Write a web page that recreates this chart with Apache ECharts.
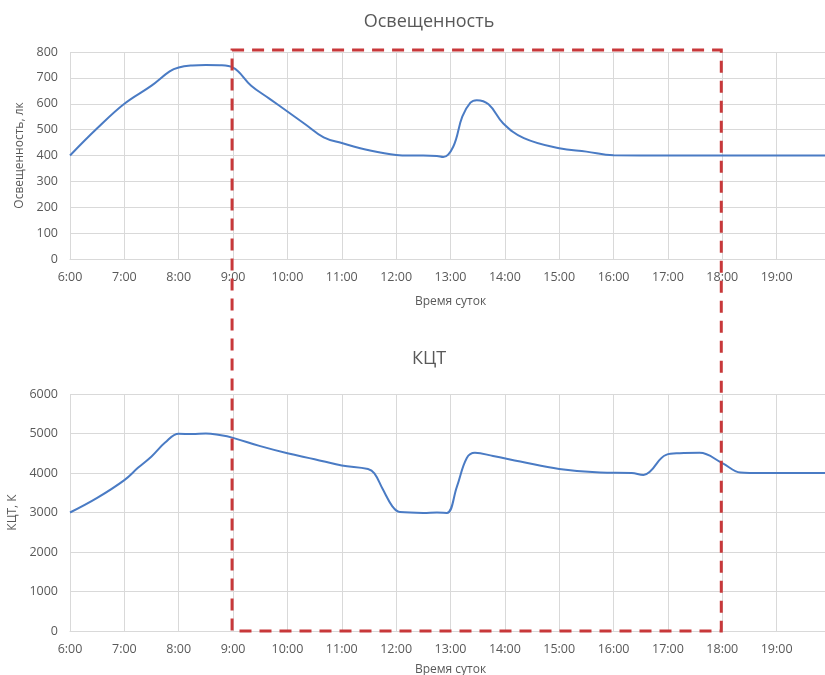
<!DOCTYPE html>
<html>
<head>
<meta charset="utf-8">
<script src="https://cdn.jsdelivr.net/npm/echarts@6/dist/echarts.min.js"></script>
<style>
html, body { margin: 0; padding: 0; background: #fff; }
#main { width: 825px; height: 675px; }
</style>
</head>
<body>
<div id="main"></div>
<script>
// Освещенность
var luxTimes = ['6:00','6:30','7:00','7:30','7:50','8:00','8:15','8:30','8:45','9:00','9:20','9:40','10:00','10:20','10:40','11:00','11:30','12:00','12:15','12:30','12:45','12:52','13:03','13:13','13:22','13:29','13:42','13:58','14:21','15:00','15:30','16:00','17:00','18:00','19:00','20:00'];
var luxValues = [400,505,600,670,725,740,748,750,749,740,670,620,570,520,470,448,420,402,400,400,398,394,434,550,604,614,598,525,467,428,415,401,400,400,400,400];

// КЦТ
var cctTimes = ['6:00','6:30','7:00','7:15','7:30','7:45','8:00','8:15','8:30','8:45','9:00','9:30','10:00','10:30','11:00','11:29','11:36','11:45','11:56','12:04','12:30','12:45','12:56','13:07','13:18','13:27','13:47','14:17','15:00','15:45','16:20','16:33','16:40','16:58','17:13','17:35','18:00','18:20','18:30','19:00','20:00'];
var cctValues = [3000,3370,3820,4130,4420,4770,4995,4985,5000,4960,4890,4680,4500,4350,4190,4100,3990,3600,3150,3010,2990,3000,2990,3650,4380,4510,4430,4290,4100,4010,4000,3950,4030,4460,4500,4510,4250,4010,4000,4000,4000];

var hourTicks = ['6:00','7:00','8:00','9:00','10:00','11:00','12:00','13:00','14:00','15:00','16:00','17:00','18:00','19:00'];

// выделенный интервал
var markFrom = '9:00';
var markTo = '18:00';

function toHours(s) {
	var p = s.split(':');
	return +p[0] + (+p[1]) / 60;
}

function pairs(times, values) {
	var out = [];
	for (var i = 0; i < times.length; i++) {
		out.push([toHours(times[i]), values[i]]);
	}
	return out;
}

var textColor = '#595959';
var gridColor = '#d9d9d9';
var font = 'Open Sans';

function xAxisOpt(gridIndex, nameGap) {
	return {
		type: 'value', gridIndex: gridIndex,
		min: toHours(hourTicks[0]), max: 20, interval: 1,
		name: 'Время суток', nameLocation: 'middle', nameGap: nameGap,
		nameTextStyle: { color: textColor, fontFamily: font, fontSize: 12 },
		axisLine: { show: true, lineStyle: { color: gridColor, width: 1 } },
		axisTick: { show: false },
		splitLine: { show: true, lineStyle: { color: gridColor, width: 1 } },
		axisLabel: {
			color: textColor, fontFamily: font, fontSize: 12.5, margin: 12,
			showMaxLabel: false,
			formatter: function(v) { return Math.round(v) + ':00'; }
		}
	};
}

function yAxisOpt(gridIndex, name, max, interval, nameGap) {
	return {
		type: 'value', gridIndex: gridIndex,
		min: 0, max: max, interval: interval,
		name: name, nameLocation: 'middle', nameGap: nameGap, nameRotate: 90,
		nameTextStyle: { color: textColor, fontFamily: font, fontSize: 12 },
		axisLine: { show: false },
		axisTick: { show: false },
		splitLine: { show: true, lineStyle: { color: gridColor, width: 1 } },
		axisLabel: {
			color: textColor, fontFamily: font, fontSize: 12.5, margin: 12,
			formatter: function(v) { return String(v); }
		}
	};
}

function lineSeries(idx, data) {
	return {
		type: 'line', xAxisIndex: idx, yAxisIndex: idx,
		data: data, smooth: 0.4,
		showSymbol: false, symbol: 'none',
		lineStyle: { color: '#4a7bc4', width: 2 }
	};
}

var option = {
	animation: false,
	backgroundColor: '#fff',
	title: [
		{ text: 'Освещенность', left: 424, top: 8, textAlign: 'center',
		  textStyle: { color: textColor, fontFamily: font, fontSize: 18, fontWeight: 'normal' } },
		{ text: 'КЦТ', left: 424, top: 345, textAlign: 'center',
		  textStyle: { color: textColor, fontFamily: font, fontSize: 18, fontWeight: 'normal' } }
	],
	grid: [
		{ left: 70, top: 52, right: -6, height: 207, containLabel: false, outerBoundsMode: 'none' },
		{ left: 70, top: 394, right: -6, height: 237, containLabel: false, outerBoundsMode: 'none' }
	],
	xAxis: [xAxisOpt(0, 37), xAxisOpt(1, 33)],
	yAxis: [
		yAxisOpt(0, 'Освещенность, лк', 800, 100, 40),
		yAxisOpt(1, 'КЦТ, К', 6000, 1000, 50)
	],
	series: [
		lineSeries(0, pairs(luxTimes, luxValues)),
		lineSeries(1, pairs(cctTimes, cctValues))
	]
};

var myChart = echarts.init(document.getElementById('main'));
myChart.setOption(option);

// красная пунктирная рамка через обе диаграммы
var p1 = myChart.convertToPixel({ gridIndex: 0 }, [toHours(markFrom), 800]);
var p2 = myChart.convertToPixel({ gridIndex: 1 }, [toHours(markTo), 0]);
myChart.setOption({
	graphic: [{
		type: 'rect', z: 100,
		shape: { x: p1[0] - 1, y: p1[1] - 2, width: p2[0] - p1[0], height: p2[1] - p1[1] + 2 },
		style: { fill: 'none', stroke: '#c8383a', lineWidth: 3, lineDash: [12, 8] }
	}]
});
</script>
</body>
</html>
